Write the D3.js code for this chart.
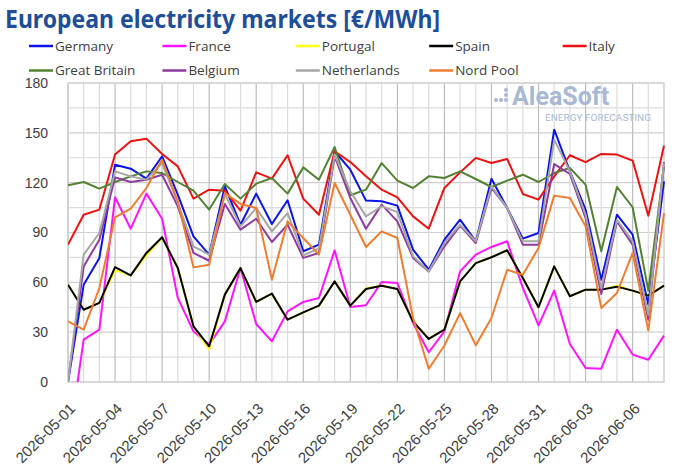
<!DOCTYPE html>
<meta charset="utf-8">
<style>
body { margin: 0; background: white; }
svg { font-family: "Open Sans", "Liberation Sans", sans-serif; }
.title { font-family: "Noto Sans", sans-serif; font-weight: bold; fill: #1f4e99; }
.tick text { fill: #404040; }
</style>
<body>
<script src="https://d3js.org/d3.v7.min.js"></script>
<script>

var startDate = "2026-05-01",
    nDays = 39;

var series = ["Germany", "France", "Portugal", "Spain", "Italy",
              "Great Britain", "Belgium", "Netherlands", "Nord Pool"];

var colors = ["#0a14e6", "#ff14ff", "#ffff14", "#000000", "#ee1111",
              "#548235", "#8e3a9e", "#a6a6a6", "#ed7d31"];

var germany = [0, 58.6, 74.7, 130.8, 128.4, 122.4, 135.9, 112.8, 87.7, 76.7,
  117.8, 94.7, 113.4, 95.1, 109.4, 78.7, 82.7, 138.9, 127.8, 109.2,
  108.8, 106.2, 79.7, 67.6, 85.7, 97.7, 84.7, 122.4, 104.8, 86.3,
  89.7, 151.9, 126.8, 103.8, 61.6, 100.7, 88.7, 46.6, 120.8];

var france = [-40, 25.5, 31.5, 111.2, 92.3, 113.4, 98.3, 50.6, 30.5, 22.5,
  36.5, 68.6, 34.9, 24.5, 42.5, 48.2, 50.6, 79.3, 45.2, 46.2,
  60.2, 59.6, 35.5, 17.9, 30.5, 66.6, 76.7, 81.3, 84.7, 56.6,
  34.1, 55.0, 22.9, 8.4, 8.0, 31.5, 16.5, 13.4, 27.9];

var portugal = [58.6, 43.5, 47.6, 67.2, 64.2, 76.2, 87.1, 68.6, 33.5, 19.5,
  52.6, 68.6, 48.2, 53.2, 37.5, 41.9, 46.0, 60.6, 46.0, 56.5,
  58.0, 56.0, 36.5, 25.9, 31.5, 60.6, 71.6, 75.1, 79.3, 62.6,
  45.0, 69.6, 51.6, 55.6, 55.6, 57.9, 55.0, 52.0, 58.0];

var spain = [58.6, 43.5, 47.6, 69.2, 64.2, 77.7, 87.1, 68.6, 33.5, 21.5,
  52.6, 68.6, 48.2, 53.2, 37.5, 41.9, 46.0, 60.6, 46.0, 56.0,
  58.0, 56.0, 36.5, 25.9, 31.5, 60.6, 71.6, 75.1, 79.3, 62.6,
  45.0, 69.6, 51.6, 55.6, 55.6, 57.4, 55.0, 52.0, 58.0];

var italy = [82.7, 100.7, 103.8, 136.9, 144.9, 146.5, 137.3, 129.8, 110.4, 115.8,
  115.2, 103.2, 126.2, 122.4, 136.5, 110.4, 100.7, 138.9, 132.4, 123.8,
  115.8, 111.2, 99.7, 92.3, 116.8, 126.2, 134.9, 131.8, 134.3, 113.2,
  109.8, 123.8, 136.5, 132.4, 137.3, 136.9, 133.3, 100.1, 142.3];

var britain = [118.4, 120.4, 116.4, 120.4, 123.8, 126.8, 125.8, 120.4, 115.2, 103.8,
  119.2, 110.4, 119.4, 122.8, 113.4, 129.2, 121.8, 141.5, 112.4, 115.8,
  131.8, 121.2, 116.8, 123.8, 122.8, 126.8, 122.2, 117.4, 121.2, 124.8,
  120.4, 125.8, 128.8, 118.8, 78.7, 117.4, 105.2, 55.0, 129.8];

var belgium = [0, 69.6, 85.7, 123.2, 120.4, 121.8, 124.8, 105.8, 77.7, 73.0,
  107.2, 91.7, 98.3, 84.3, 94.7, 74.7, 77.7, 135.9, 110.8, 92.3,
  106.8, 96.7, 74.7, 66.6, 81.7, 94.1, 83.7, 116.8, 104.8, 82.7,
  82.7, 131.2, 125.2, 98.7, 53.0, 96.7, 82.7, 37.5, 132.4];

var netherlands = [0, 76.7, 89.7, 126.8, 123.8, 121.8, 131.8, 107.8, 81.7, 76.7,
  113.2, 93.7, 104.8, 90.7, 101.7, 76.3, 80.3, 136.9, 114.8, 99.7,
  105.8, 102.3, 75.7, 66.6, 83.7, 94.7, 84.7, 117.8, 104.8, 84.7,
  84.7, 145.9, 126.8, 100.7, 56.6, 97.7, 84.7, 40.5, 131.8];

var nordPool = [36.5, 31.5, 56.6, 99.1, 104.4, 116.8, 133.9, 108.8, 69.0, 70.6,
  113.8, 107.2, 104.8, 61.6, 96.7, 86.7, 76.7, 119.8, 100.7, 81.3,
  90.7, 86.7, 38.5, 8.0, 22.0, 41.5, 22.1, 38.5, 67.6, 64.6,
  80.7, 112.2, 110.8, 93.7, 44.6, 53.6, 77.7, 30.9, 101.7];

var values = [germany, france, portugal, spain, italy, britain, belgium, netherlands, nordPool];

var yTicks = [0, 30, 60, 90, 120, 150, 180];

var width = 680,
    height = 474,
    margin = {top: 83, right: 16, bottom: 92, left: 68};

var day0 = new Date(startDate + "T00:00:00Z");
var dates = d3.range(nDays).map(function(i) { return d3.utcDay.offset(day0, i); });

var x = d3.scaleUtc()
    .domain([dates[0], dates[nDays - 1]])
    .range([margin.left, width - margin.right]);

var y = d3.scaleLinear()
    .domain([0, 180])
    .range([height - margin.bottom, margin.top]);

var svg = d3.select("body").append("svg")
    .attr("width", width)
    .attr("height", height);

svg.append("text")
    .attr("class", "title")
    .attr("x", 5)
    .attr("y", 28)
    .attr("textLength", 435)
    .attr("lengthAdjust", "spacingAndGlyphs")
    .style("font-size", "25px")
    .text("European electricity markets [€/MWh]");

// legend, 5 per row
var legend = svg.append("g").selectAll("g")
    .data(series)
    .enter().append("g")
    .attr("transform", function(d, i) {
        return "translate(" + (29 + (i % 5) * 133.4) + "," + (46 + Math.floor(i / 5) * 24.5) + ")";
    });

legend.append("line")
    .attr("x1", 0).attr("x2", 24)
    .attr("stroke", function(d, i) { return colors[i]; })
    .attr("stroke-width", 2.5);

legend.append("text")
    .attr("x", 26)
    .attr("dy", "0.35em")
    .style("font-size", "13.5px")
    .style("fill", "#404040")
    .text(function(d) { return d; });

// grid
var grid = svg.append("g");

grid.selectAll(".hg")
    .data(d3.range(0, 181, 15))
    .enter().append("line")
    .attr("x1", margin.left).attr("x2", width - margin.right)
    .attr("y1", function(d) { return y(d); })
    .attr("y2", function(d) { return y(d); })
    .attr("stroke", function(d) { return d % 30 == 0 ? "#cfcfcf" : "#dcdcdc"; })
    .attr("stroke-width", 1.2);

grid.selectAll(".vg")
    .data(dates)
    .enter().append("line")
    .attr("x1", function(d) { return x(d); })
    .attr("x2", function(d) { return x(d); })
    .attr("y1", y(0)).attr("y2", y(180))
    .attr("stroke", function(d, i) { return i % 3 == 0 ? "#bdbdbd" : "#dcdcdc"; })
    .attr("stroke-width", 1.2);

svg.append("rect")
    .attr("x", margin.left).attr("y", margin.top)
    .attr("width", width - margin.right - margin.left)
    .attr("height", y(0) - margin.top)
    .attr("fill", "none")
    .attr("stroke", "#d0d0d0")
    .attr("stroke-width", 1.2);

// watermark
var logo = svg.append("g").attr("fill", "#a9b9d3");
logo.append("text")
    .attr("x", 512).attr("y", 105)
    .style("font-family", "Roboto, sans-serif")
    .style("font-weight", "bold")
    .style("font-size", "25px")
    .text("AleaSoft");
logo.append("text")
    .attr("x", 545).attr("y", 121)
    .attr("textLength", 106)
    .attr("lengthAdjust", "spacingAndGlyphs")
    .style("font-family", "Roboto, sans-serif")
    .style("font-size", "9px")
    .text("ENERGY FORECASTING");
logo.selectAll("circle")
    .data([[496, 100], [501, 100], [506, 100], [506, 95], [506, 90]])
    .enter().append("circle")
    .attr("cx", function(d) { return d[0]; })
    .attr("cy", function(d) { return d[1]; })
    .attr("r", 2);

// axes
var yAxis = svg.append("g")
    .attr("transform", "translate(" + margin.left + ",0)")
    .call(d3.axisLeft(y).tickValues(yTicks).tickSize(0).tickPadding(20));
yAxis.select(".domain").remove();
yAxis.selectAll("text").style("font-size", "14px");

var xAxis = svg.append("g")
    .attr("transform", "translate(0," + y(0) + ")")
    .call(d3.axisBottom(x)
        .tickValues(dates.filter(function(d, i) { return i % 3 == 0; }))
        .tickFormat(d3.utcFormat("%Y-%m-%d"))
        .tickSize(0));
xAxis.select(".domain").remove();
xAxis.selectAll("text")
    .attr("x", 0).attr("y", 0)
    .attr("dy", "0.35em")
    .style("font-size", "15px")
    .style("text-anchor", "end")
    .attr("transform", "translate(4,24) rotate(-45)");

// lines
svg.append("clipPath").attr("id", "clip")
    .append("rect")
    .attr("x", margin.left).attr("y", margin.top - 5)
    .attr("width", width - margin.right - margin.left + 2)
    .attr("height", y(0) - margin.top + 5);

var line = d3.line()
    .x(function(d, i) { return x(dates[i]); })
    .y(function(d) { return y(d); });

svg.append("g")
    .attr("clip-path", "url(#clip)")
    .selectAll("path")
    .data(values)
    .enter().append("path")
    .attr("d", line)
    .attr("fill", "none")
    .attr("stroke", function(d, i) { return colors[i]; })
    .attr("stroke-width", 2)
    .attr("stroke-linejoin", "round");

</script>
</body>
</html>
